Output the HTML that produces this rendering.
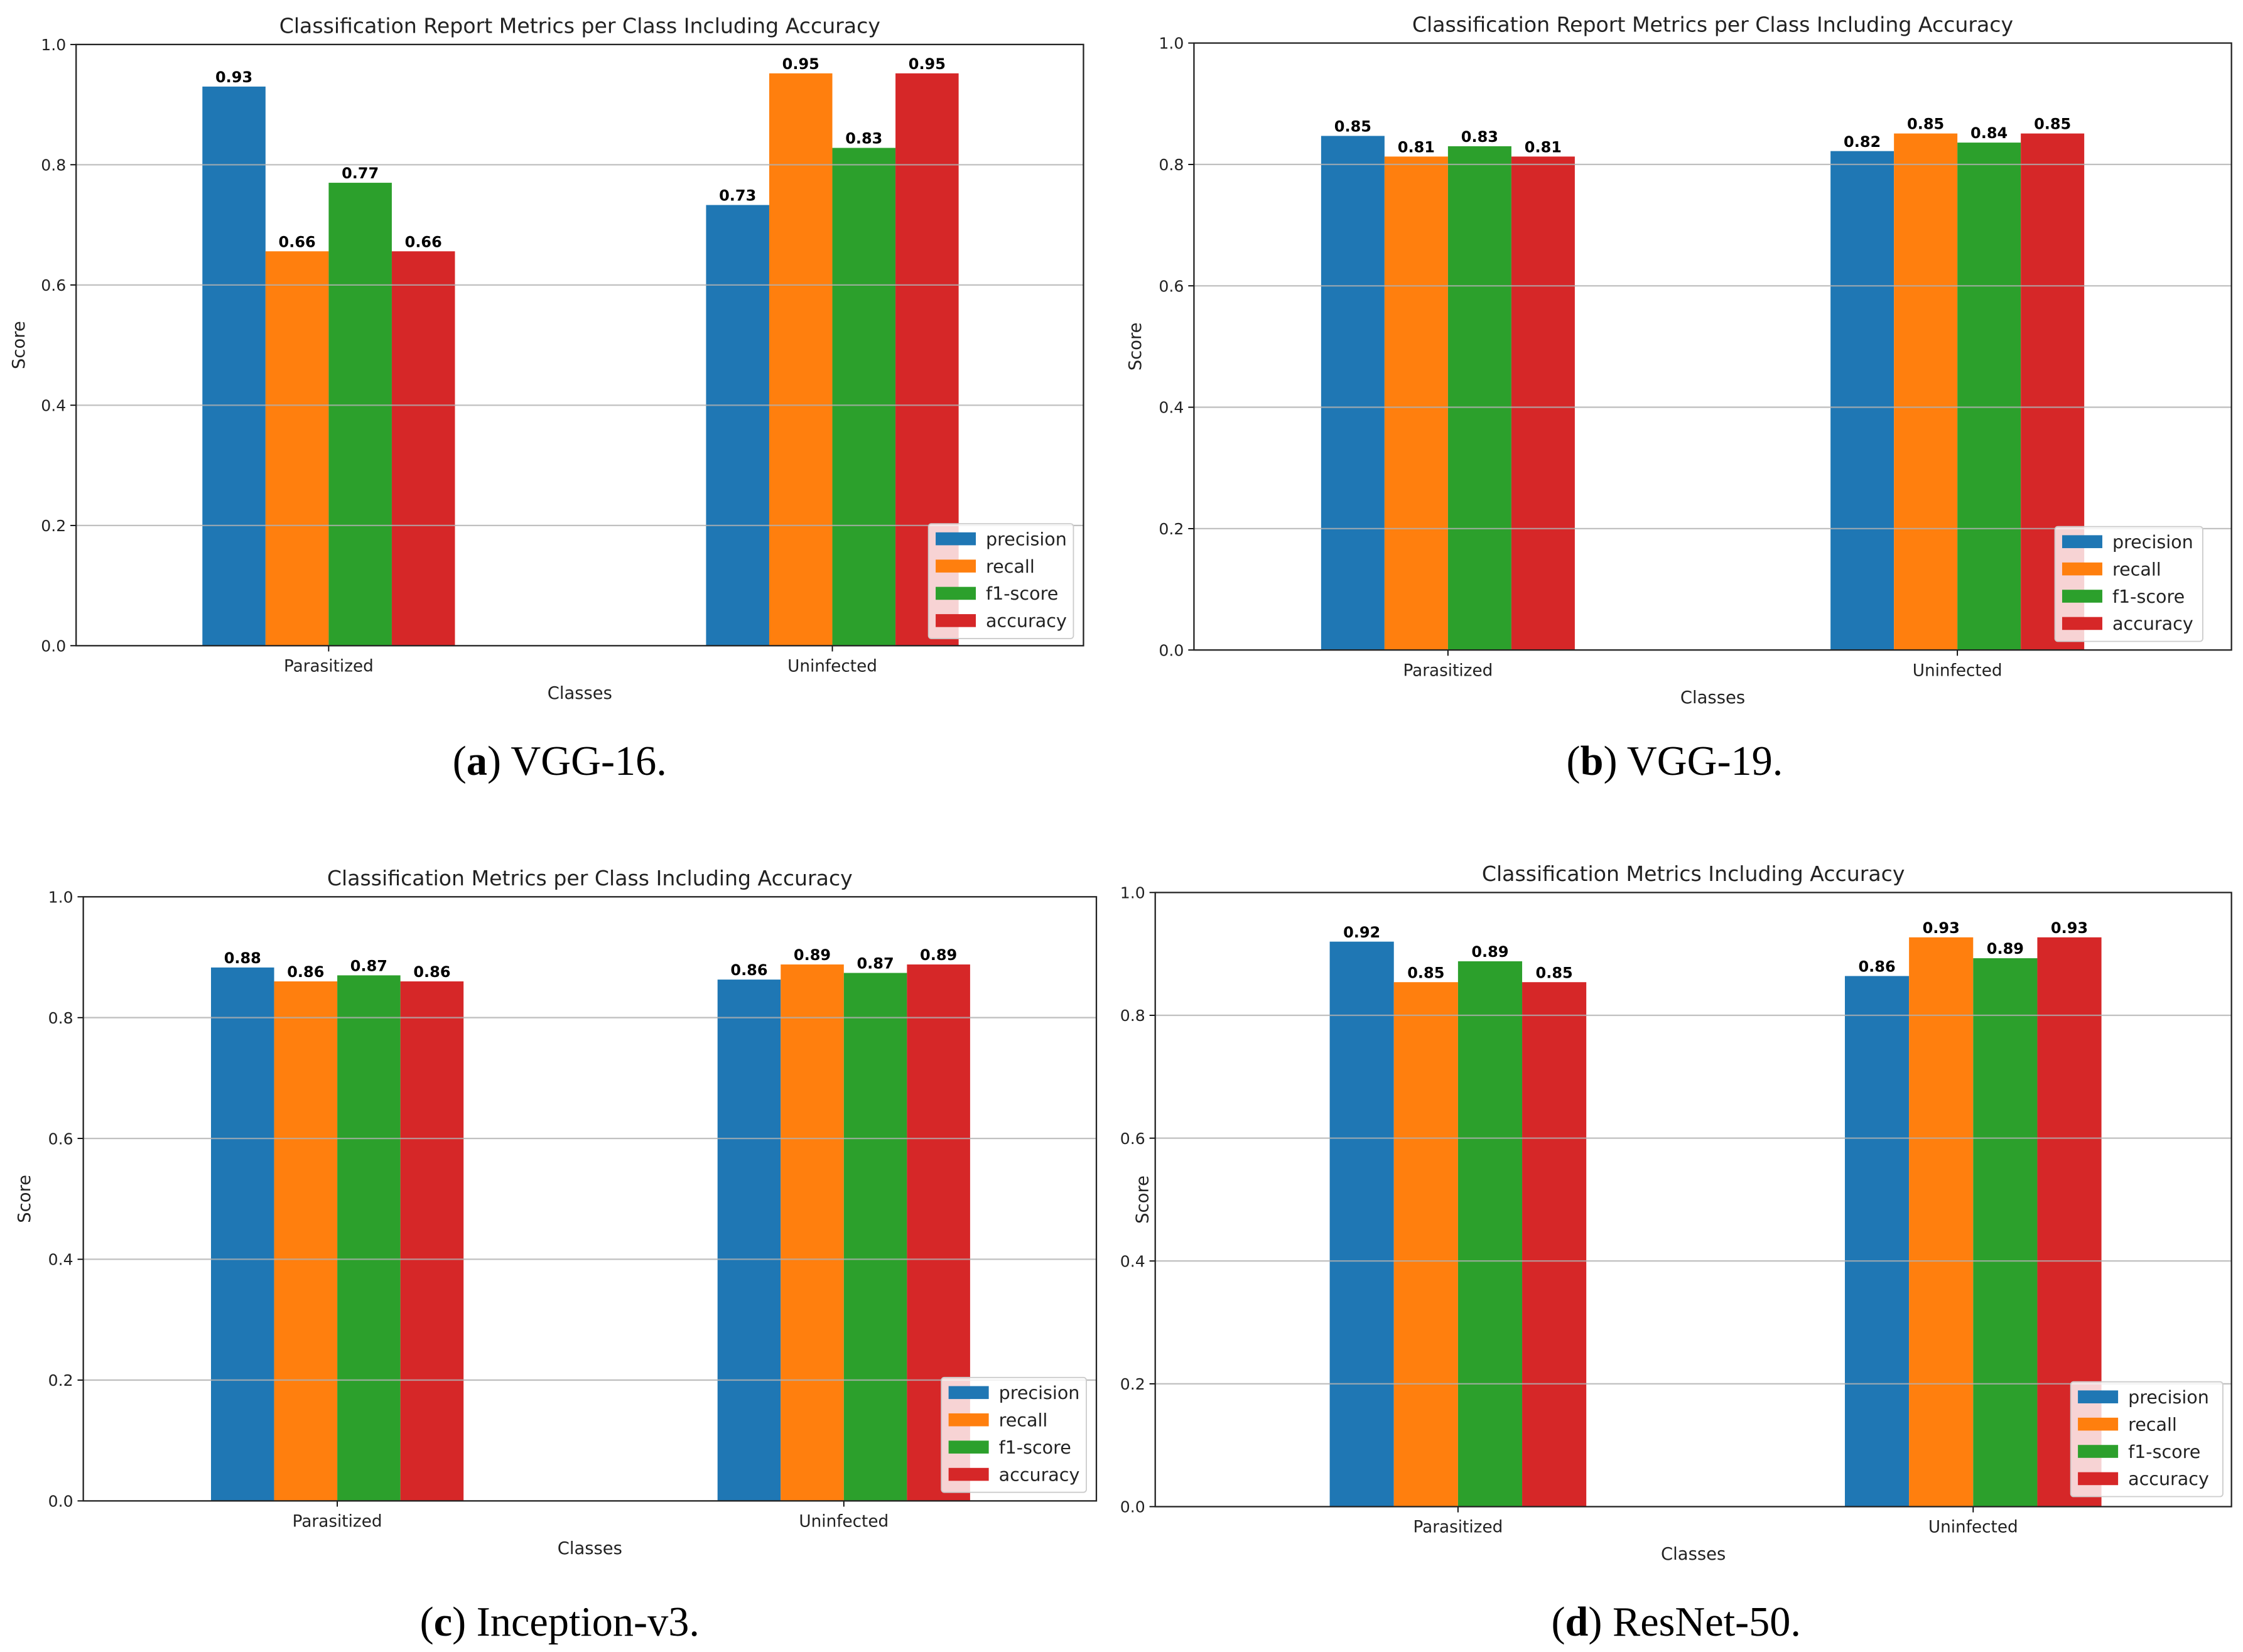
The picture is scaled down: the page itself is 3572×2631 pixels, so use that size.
<!DOCTYPE html>
<html><head><meta charset="utf-8">
<style>
html,body{margin:0;padding:0;background:#fff;}
svg{display:block;}
text{font-family:"DejaVu Sans","Liberation Sans",sans-serif;}
.cap{font-family:"Liberation Serif",serif;}
</style></head>
<body>
<svg id="fig" width="3572" height="2631" viewBox="0 0 1563 1151.3" xmlns="http://www.w3.org/2000/svg"></svg>
<script>
const metrics = ["precision","recall","f1-score","accuracy"];
const classes = ["Parasitized","Uninfected"];
const colors = ["#1f77b4","#ff7f0e","#2ca02c","#d62728"];
const yTicks = [0,0.2,0.4,0.6,0.8,1.0];
const yTickLabels = ["0.0","0.2","0.4","0.6","0.8","1.0"];
const aPar = [0.93,0.656,0.77,0.656];
const aUni = [0.733,0.952,0.828,0.952];
const bPar = [0.847,0.813,0.83,0.813];
const bUni = [0.822,0.851,0.836,0.851];
const cPar = [0.883,0.86,0.87,0.86];
const cUni = [0.863,0.888,0.874,0.888];
const dPar = [0.92,0.854,0.888,0.854];
const dUni = [0.864,0.927,0.893,0.927];
const titles = ["Classification Report Metrics per Class Including Accuracy","Classification Report Metrics per Class Including Accuracy","Classification Metrics per Class Including Accuracy","Classification Metrics Including Accuracy"];
const capLetters = ["a","b","c","d"];
const capNames = [" VGG-16."," VGG-19."," Inception-v3."," ResNet-50."];

const panels = [
 {id:"a",x0:53,x1:755,y0:31,y1:450,t0:229,t1:580,bw:44,par:aPar,uni:aUni,ylx:13,capY:530,capX:390,leg:[647,365,101]},
 {id:"b",x0:832,x1:1555,y0:30,y1:453,t0:1009,t1:1364,bw:44.2,par:bPar,uni:bUni,ylx:791,capY:530,capX:1167,leg:[1432,367,103]},
 {id:"c",x0:58,x1:764,y0:625,y1:1046,t0:235,t1:588,bw:44,par:cPar,uni:cUni,ylx:17,capY:1130,capX:390,leg:[656,960,101]},
 {id:"d",x0:805,x1:1555,y0:622,y1:1050,t0:1016,t1:1375,bw:44.7,par:dPar,uni:dUni,ylx:796,capY:1130,capX:1168,leg:[1443,963,106]}
];
const NS="http://www.w3.org/2000/svg";
const svg=document.getElementById("fig");
function mk(tag,attrs,parent,txt){const e=document.createElementNS(NS,tag);for(const k in attrs)e.setAttribute(k,attrs[k]);if(txt!==undefined)e.textContent=txt;parent.appendChild(e);return e;}

panels.forEach((p,pi)=>{
 const g=mk("g",{},svg);
 
 
 const W=p.x1-p.x0,H=p.y1-p.y0;
 const xs=i=>p.t0+i*(p.t1-p.t0);
 const ys=v=>p.y1-v*H;
 const bw=p.bw;
 [p.par,p.uni].forEach((vals,ci)=>{
  vals.forEach((v,mi)=>{
   const cx=xs(ci)+(mi-1.5)*bw;
   const r=mk("rect",{x:cx-bw/2,y:ys(v),width:bw,height:ys(0)-ys(v),fill:colors[mi]},g);
   
   
   const t=mk("text",{x:cx,y:ys(v)-3,"font-size":10.5,"font-weight":"bold","text-anchor":"middle",fill:"#000"},g,v.toFixed(2));
   
   
  });
 });
 yTicks.forEach((v,i)=>{
  if(v>0&&v<1){const l=mk("line",{x1:p.x0,x2:p.x1,y1:ys(v),y2:ys(v),stroke:"#b0b0b0","stroke-opacity":0.8,"stroke-width":1},g);
   
   }
  mk("line",{x1:p.x0-4,x2:p.x0,y1:ys(v),y2:ys(v),stroke:"#000","stroke-width":0.8},g);
  const t=mk("text",{x:p.x0-7,y:ys(v)+4,"font-size":11,"text-anchor":"end",fill:"#222"},g,yTickLabels[i]);
  
  
 });
 classes.forEach((c,ci)=>{
  mk("line",{x1:xs(ci),x2:xs(ci),y1:p.y1,y2:p.y1+4,stroke:"#000","stroke-width":0.8},g);
  const t=mk("text",{x:xs(ci),y:p.y1+18,"font-size":11.5,"text-anchor":"middle",fill:"#222"},g,c);
  
  
 });
 const fr=mk("rect",{x:p.x0,y:p.y0,width:W,height:H,fill:"none",stroke:"#222","stroke-width":1},g);
 
 
 const ti=mk("text",{x:(p.x0+p.x1)/2,y:p.y0-8,"font-size":14.5,"text-anchor":"middle",fill:"#222"},g,titles[pi]);
 
 
 const xl=mk("text",{x:(p.x0+p.x1)/2,y:p.y1+37,"font-size":12,"text-anchor":"middle",fill:"#222"},g,"Classes");
 
 
 const yl=mk("text",{x:p.ylx+4,y:(p.y0+p.y1)/2,"font-size":12,"text-anchor":"middle",fill:"#222",transform:`rotate(-90 ${p.ylx+4} ${(p.y0+p.y1)/2})`},g,"Score");
 
 
 const lg=mk("g",{},g);
 
 
 const [lx,ly,lw]=p.leg;
 mk("rect",{x:lx,y:ly,width:lw,height:80,rx:2,fill:"#fff","fill-opacity":0.8,stroke:"#ccc","stroke-width":0.8},lg);
 metrics.forEach((m,mi)=>{
  const e=mk("g",{},lg);
  
  
  mk("rect",{x:lx+5,y:ly+6+mi*19,width:28,height:9,fill:colors[mi]},e);
  mk("text",{x:lx+40,y:ly+15+mi*19,"font-size":12.5,fill:"#222"},e,m);
 });
 const cap=mk("text",{x:p.capX,y:p.capY+10,"font-size":29,"text-anchor":"middle",fill:"#000",class:"cap"},g);
 
 
 mk("tspan",{},cap,"(");
 mk("tspan",{"font-weight":"bold"},cap,capLetters[pi]);
 mk("tspan",{},cap,")"+capNames[pi]);
});
</script>
</body></html>
